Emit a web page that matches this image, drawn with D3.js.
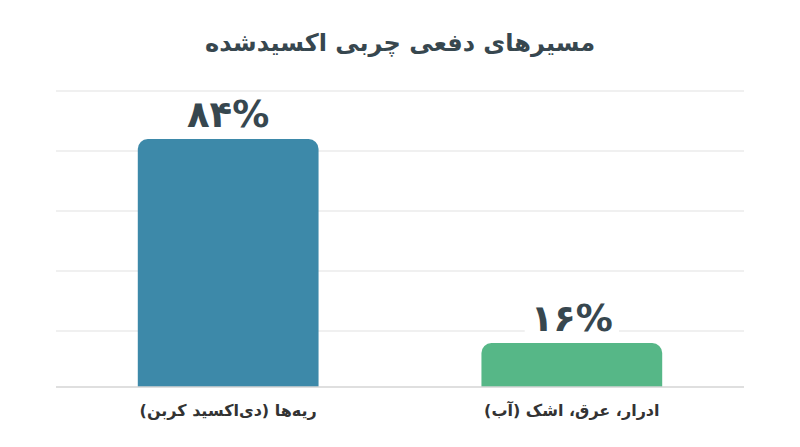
<!DOCTYPE html>
<html lang="fa">
<head>
<meta charset="utf-8">
<script src="https://cdn.jsdelivr.net/npm/d3@7"></script>
<style>
  html, body { margin: 0; padding: 0; background: #ffffff; }
  svg { display: block; font-family: "DejaVu Sans", "Noto Sans", sans-serif; }
</style>
</head>
<body>
<div id="root"><svg id="chart" width="800" height="447"></svg></div>
<script>
const chartTitle = 'مسیرهای دفعی چربی اکسیدشده';
const categories = ['ریه‌ها (دی‌اکسید کربن)', 'ادرار، عرق، اشک (آب)'];
const values = [84, 16];
const yTicks = [20, 40, 60, 80, 100];

function toPersianDigits(n) {
  return String(n).replace(/[0-9]/g, (d) => '۰۱۲۳۴۵۶۷۸۹'[+d]);
}

function drawChart() {
  const width = 800;
  const plotLeft = 56;
  const plotRight = 744;
  const plotBottom = 387;

  const barFill = d3.scaleOrdinal()
    .domain([0, 1])
    .range(['#3d89a9', '#56b787']);

  const svg = d3.select('#chart');

  const x = d3.scaleBand()
    .domain(categories)
    .range([plotLeft, plotRight])
    .paddingInner(0.474)
    .paddingOuter(0.238);

  const y = d3.scaleLinear()
    .domain([0, 100])
    .range([391, 91]);

  // title
  svg.append('text')
    .attr('x', width / 2)
    .attr('y', 51)
    .attr('text-anchor', 'middle')
    .attr('direction', 'rtl')
    .attr('font-size', 24)
    .attr('font-weight', 'bold')
    .attr('fill', '#37474f')
    .text(chartTitle);

  // grid
  svg.append('g')
    .selectAll('line')
    .data(yTicks)
    .join('line')
    .attr('x1', plotLeft)
    .attr('x2', plotRight)
    .attr('y1', (d) => y(d))
    .attr('y2', (d) => y(d))
    .attr('stroke', '#ebebeb')
    .attr('stroke-width', 1.5);

  svg.append('clipPath')
    .attr('id', 'plot-clip')
    .append('rect')
    .attr('x', plotLeft)
    .attr('y', 0)
    .attr('width', plotRight - plotLeft)
    .attr('height', plotBottom);

  // bars, rounded on top only
  const r = 10;
  svg.append('g')
    .attr('clip-path', 'url(#plot-clip)')
    .selectAll('path')
    .data(values)
    .join('path')
    .attr('fill', (d, i) => barFill(i))
    .attr('d', (d, i) => {
      const x0 = x(categories[i]);
      const x1 = x0 + x.bandwidth();
      const top = y(d);
      const bottom = y(0);
      const p = d3.path();
      p.moveTo(x0, bottom);
      p.lineTo(x0, top + r);
      p.arcTo(x0, top, x0 + r, top, r);
      p.lineTo(x1 - r, top);
      p.arcTo(x1, top, x1, top + r, r);
      p.lineTo(x1, bottom);
      p.closePath();
      return p.toString();
    });

  // baseline
  svg.append('line')
    .attr('x1', plotLeft)
    .attr('x2', plotRight)
    .attr('y1', plotBottom)
    .attr('y2', plotBottom)
    .attr('stroke', '#d4d4d4')
    .attr('stroke-width', 1.5);

  // value labels with white backing
  const labels = svg.append('g')
    .selectAll('g')
    .data(values)
    .join('g');

  const labelText = labels.append('text')
    .attr('x', (d, i) => x(categories[i]) + x.bandwidth() / 2)
    .attr('y', (d) => y(d) - 12)
    .attr('text-anchor', 'middle')
    .attr('font-size', 37)
    .attr('font-weight', 'bold')
    .attr('fill', '#37474f')
    .text((d) => toPersianDigits(d) + '%');

  labelText.each(function () {
    const b = this.getBBox();
    d3.select(this.parentNode)
      .insert('rect', 'text')
      .attr('x', b.x - 6)
      .attr('y', b.y)
      .attr('width', b.width + 12)
      .attr('height', b.height)
      .attr('fill', '#ffffff');
  });

  // category labels
  svg.append('g')
    .selectAll('text')
    .data(categories)
    .join('text')
    .attr('x', (d) => x(d) + x.bandwidth() / 2)
    .attr('y', 416)
    .attr('text-anchor', 'middle')
    .attr('direction', 'rtl')
    .attr('font-size', 16)
    .attr('font-weight', 'bold')
    .attr('fill', '#333333')
    .text((d) => d);
}

window.addEventListener('load', function () {
  drawChart();
});
</script>
</body>
</html>
